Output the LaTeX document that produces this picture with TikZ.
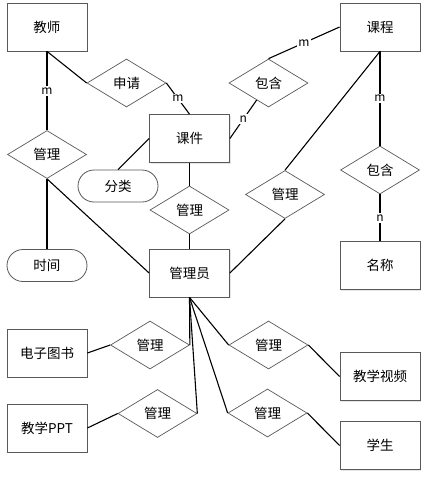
\documentclass[tikz,border=0pt]{standalone}
\usepackage{fontspec}
\setmainfont{Noto Sans CJK SC}
\usetikzlibrary{shapes.geometric,shadows}
\tikzset{
  ent/.style={draw=black!65, line width=0.8pt, fill=white, rectangle, minimum width=80pt, minimum height=48pt, inner sep=0pt,
    drop shadow={opacity=0.2, shadow xshift=1.2pt, shadow yshift=-1.2pt}, font=\fontsize{13.5}{14}\selectfont},
  rel/.style={draw=black!65, line width=0.7pt, fill=white, diamond, minimum width=79pt, minimum height=48pt, inner sep=0pt, font=\fontsize{13.5}{14}\selectfont},
  attr/.style={draw=black!65, line width=0.8pt, fill=white, rectangle, rounded corners=16pt, minimum width=80pt, minimum height=32pt, inner sep=0pt, font=\fontsize{13.5}{14}\selectfont},
  conn/.style={line width=1.1pt, black},
  card/.style={fill=white, inner sep=1.5pt, font=\fontsize{12}{12}\selectfont},
}
\begin{document}
\begin{tikzpicture}[x=1pt,y=-1pt]
\useasboundingbox (0,0) rectangle (429,480);
% entities
\node[ent] (js) at (47,27) {教师};
\node[ent] (kc) at (380,27) {课程};
\node[ent] (kj) at (189.5,138.5) {课件};
\node[ent] (gly) at (189.5,273) {管理员};
\node[ent] (mc) at (380,265.5) {名称};
\node[ent] (dz) at (47,353) {电子图书};
\node[ent] (ppt) at (47,428) {教学PPT};
\node[ent] (sp) at (380,376.5) {教学视频};
\node[ent] (xs) at (380,445.5) {学生};
% relations
\node[rel] (sq) at (126.5,83) {申请};
\node[rel] (bh1) at (268.5,83) {包含};
\node[rel] (gl1) at (47,154.5) {管理};
\node[rel] (bh2) at (380,170) {包含};
\node[rel] (gl2) at (189.5,210) {管理};
\node[rel] (gl3) at (285,194.5) {管理};
\node[rel] (gl4) at (150,345) {管理};
\node[rel] (gl5) at (157.5,413.5) {管理};
\node[rel] (gl6) at (268.5,345) {管理};
\node[rel] (gl7) at (267.5,413) {管理};
% attributes
\node[attr] (fl) at (118,186) {分类};
\node[attr] (sj) at (47,265.5) {时间};
% connectors
\draw[conn] (js.south) -- node[card]{m} (gl1.north);
\draw[conn] (js.south) -- (sq.west);
\draw[conn] (sq.east) -- node[card]{m} (kj.north);
\draw[conn] (kj.east) -- node[card]{n} (bh1);
\draw[conn] (bh1.north) -- node[card]{m} (kc.west);
\draw[conn] (kc.south) -- node[card]{m} (bh2.north);
\draw[conn] (bh2.south) -- node[card]{n} (mc.north);
\draw[conn] (kc.south) -- (gl3.north);
\draw[conn] (gl3.south) -- (gly.east);
\draw[conn] (gl1.south) -- (sj.north);
\draw[conn] (gl1.south) -- (gly.west);
\draw[conn] (kj.west) -- (fl.north);
\draw[conn] (kj.south) -- (gl2.north);
\draw[conn] (gl2.south) -- (gly.north);
\draw[conn] (gly.south) -- (gl4.east);
\draw[conn] (gly.south) -- (gl5.east);
\draw[conn] (gly.south) -- (gl6.west);
\draw[conn] (gly.south) -- (gl7.west);
\draw[conn] (dz.east) -- (gl4.west);
\draw[conn] (ppt.east) -- (gl5.west);
\draw[conn] (gl6.east) -- (sp.west);
\draw[conn] (gl7.east) -- (xs.west);
\end{tikzpicture}
\end{document}
